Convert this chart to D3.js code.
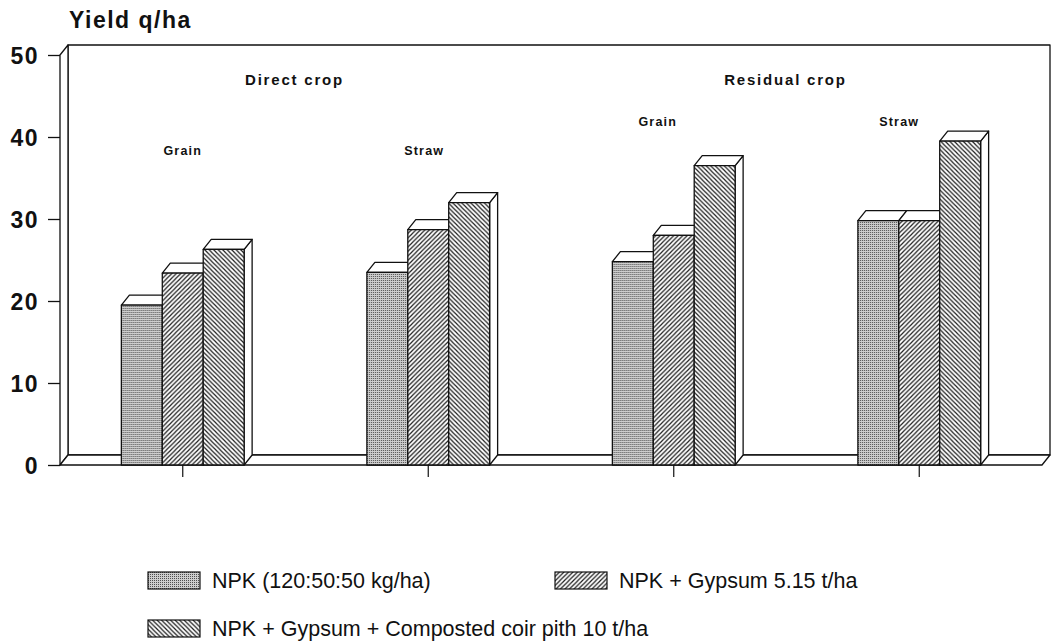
<!DOCTYPE html>
<html>
<head>
<meta charset="utf-8">
<script src="https://cdn.jsdelivr.net/npm/d3@7"></script>
<style>
    html, body { margin: 0; padding: 0; background: #fff; }
    svg text { font-family: "Liberation Sans", Arial, Helvetica, sans-serif; fill: #111; }
</style>
</head>
<body>
<svg id="chart" width="1057" height="641"></svg>
<script>
// Chart data
const GROUPS  = ["Direct Grain", "Direct Straw", "Residual Grain", "Residual Straw"];
const CROPS   = ["Direct crop", "Residual crop"];
const PARTS   = ["Grain", "Straw", "Grain", "Straw"];
const SERIES  = [
    "NPK (120:50:50 kg/ha)",
    "NPK + Gypsum 5.15 t/ha",
    "NPK + Gypsum + Composted coir pith 10 t/ha"
];
const NPK             = [19.5, 23.5, 24.8, 29.8];
const NPK_GYPSUM      = [23.4, 28.7, 28.0, 29.8];
const NPK_GYPSUM_COIR = [26.3, 32.0, 36.5, 39.5];
const Y_TICKS         = [0, 10, 20, 30, 40, 50];

// Layout
const DEPTH_X = 8;     // 3D depth offset to the right
const DEPTH_Y = 10;    // 3D depth offset upwards
const LEFT    = 60;
const RIGHT   = 1042;
const TOP     = 55;
const BOTTOM  = 465;
const INK     = "#111";

const PATTERNS = ["dots", "hatchUp", "hatchDown"];

let svg = d3.select("#chart");

let values = [NPK, NPK_GYPSUM, NPK_GYPSUM_COIR];
let rows   = GROUPS.map((g, i) => ({
    group: g,
    bars: SERIES.map((s, j) => ({ series: j, value: values[j][i] }))
}));

let x0 = d3.scaleBand().domain(GROUPS).range([LEFT, RIGHT]).paddingInner(0.5).paddingOuter(0.25);
let x1 = d3.scaleBand().domain(d3.range(SERIES.length)).range([0, x0.bandwidth()]);
let y  = d3.scaleLinear().domain([0, 50]).range([BOTTOM, TOP]);

/**
 * Fill patterns, stipple and two hatchings.
 */
let defs = svg.append("defs");

let dots = defs.append("pattern")
    .attr("id", "dots")
    .attr("patternUnits", "userSpaceOnUse")
    .attr("width", 2).attr("height", 2);
dots.append("rect").attr("width", 2).attr("height", 2).attr("fill", "#cdcdcd");
dots.append("rect").attr("width", 1).attr("height", 1).attr("fill", "#4f4f4f");

function hatch(id, d)
{
    let p = defs.append("pattern")
        .attr("id", id)
        .attr("patternUnits", "userSpaceOnUse")
        .attr("width", 4.5).attr("height", 4.5);
    p.append("rect").attr("width", 4.5).attr("height", 4.5).attr("fill", "#fff");
    p.append("path").attr("d", d).attr("stroke", "#1a1a1a").attr("stroke-width", 1.2);
}
hatch("hatchUp", "M0,4.5 L4.5,0 M-1,1 L1,-1 M3.5,5.5 L5.5,3.5");
hatch("hatchDown", "M0,0 L4.5,4.5 M3.5,-1 L5.5,1 M-1,3.5 L1,5.5");

/**
 * Box frame: back wall, left wall and floor.
 */
let frame = svg.append("g")
    .attr("fill", "#fff")
    .attr("stroke", INK)
    .attr("stroke-width", 1.3)
    .attr("stroke-linejoin", "round");

frame.append("rect")
    .attr("x", LEFT + DEPTH_X)
    .attr("y", y(50) - DEPTH_Y)
    .attr("width", RIGHT - LEFT)
    .attr("height", BOTTOM - TOP);

frame.append("path")
    .attr("d", d3.line()([
        [LEFT, y(50)], [LEFT + DEPTH_X, y(50) - DEPTH_Y],
        [LEFT + DEPTH_X, y(0) - DEPTH_Y], [LEFT, y(0)]
    ]) + "Z");

frame.append("path")
    .attr("d", d3.line()([
        [LEFT, y(0)], [LEFT + DEPTH_X, y(0) - DEPTH_Y],
        [RIGHT + DEPTH_X, y(0) - DEPTH_Y], [RIGHT, y(0)]
    ]) + "Z");

// Y axis ticks and labels
let yAxis = svg.append("g")
    .attr("transform", "translate(" + LEFT + ",0)")
    .call(d3.axisLeft(y).tickValues(Y_TICKS).tickSize(12).tickPadding(9));
yAxis.select(".domain").remove();
yAxis.selectAll(".tick line").attr("stroke", INK).attr("stroke-width", 1.3);
yAxis.selectAll(".tick text")
    .attr("font-size", 23)
    .attr("font-weight", "bold")
    .attr("letter-spacing", 1.5)
    .attr("fill", INK)
    .attr("dy", "0.36em");

// X axis ticks below the floor
let xAxis = svg.append("g")
    .attr("transform", "translate(0," + BOTTOM + ")")
    .call(d3.axisBottom(x0).tickSize(12).tickFormat(""));
xAxis.select(".domain").remove();
xAxis.selectAll(".tick line").attr("stroke", INK).attr("stroke-width", 1.2);

/**
 * Bars with top and side faces.
 */
let bars = svg.append("g")
    .selectAll("g.group")
    .data(rows)
    .join("g")
    .attr("class", "group")
    .attr("transform", (d) => "translate(" + x0(d.group) + ",0)");

let bar = bars.selectAll("g.bar")
    .data((d) => d.bars)
    .join("g")
    .attr("class", "bar")
    .attr("stroke", INK)
    .attr("stroke-width", 1.3)
    .attr("stroke-linejoin", "round");

let w = x1.bandwidth();

bar.append("path")
    .attr("fill", "#fff")
    .attr("d", (d) => {
        let x = x1(d.series), t = y(d.value);
        return d3.line()([
            [x + w, t], [x + w + DEPTH_X, t - DEPTH_Y],
            [x + w + DEPTH_X, y(0) - DEPTH_Y], [x + w, y(0)]
        ]) + "Z";
    });

bar.append("path")
    .attr("fill", "#fff")
    .attr("d", (d) => {
        let x = x1(d.series), t = y(d.value);
        return d3.line()([
            [x, t], [x + DEPTH_X, t - DEPTH_Y],
            [x + w + DEPTH_X, t - DEPTH_Y], [x + w, t]
        ]) + "Z";
    });

bar.append("rect")
    .attr("x", (d) => x1(d.series))
    .attr("y", (d) => y(d.value))
    .attr("width", w)
    .attr("height", (d) => y(0) - y(d.value))
    .attr("fill", (d) => "url(#" + PATTERNS[d.series] + ")");

/**
 * Titles and group labels.
 */
svg.append("text")
    .attr("x", 69).attr("y", 28)
    .attr("font-size", 23)
    .attr("font-weight", "bold")
    .attr("letter-spacing", 1.5)
    .text("Yield q/ha");

// Crop headers, centred between their two groups
CROPS.forEach((c, i) => {
    let a = x0(GROUPS[i * 2]) + x0.bandwidth() / 2;
    let b = x0(GROUPS[i * 2 + 1]) + x0.bandwidth() / 2;
    svg.append("text")
        .attr("x", (a + b) / 2 - 11).attr("y", 85)
        .attr("text-anchor", "middle")
        .attr("font-size", 15)
        .attr("font-weight", "bold")
        .attr("letter-spacing", 1.8)
        .text(c);
});

const PART_LABEL_POS = [[0, 155], [-4, 155], [-16, 126], [-20, 126]];

PARTS.forEach((p, i) => {
    svg.append("text")
        .attr("x", x0(GROUPS[i]) + x0.bandwidth() / 2 + PART_LABEL_POS[i][0])
        .attr("y", PART_LABEL_POS[i][1])
        .attr("text-anchor", "middle")
        .attr("font-size", 12.5)
        .attr("font-weight", "bold")
        .attr("letter-spacing", 1.2)
        .text(p);
});

/**
 * Legend.
 */
const LEGEND_POS = [[148, 572], [555, 572], [148, 620]];

let legend = svg.append("g")
    .selectAll("g.item")
    .data(SERIES)
    .join("g")
    .attr("class", "item")
    .attr("transform", (d, i) => "translate(" + LEGEND_POS[i][0] + "," + LEGEND_POS[i][1] + ")");

legend.append("rect")
    .attr("width", 52)
    .attr("height", 17)
    .attr("fill", (d, i) => "url(#" + PATTERNS[i] + ")")
    .attr("stroke", INK)
    .attr("stroke-width", 1.2);

legend.append("text")
    .attr("x", 64)
    .attr("y", 16)
    .attr("font-size", 21.5)
    .text((d) => d);
</script>
</body>
</html>
